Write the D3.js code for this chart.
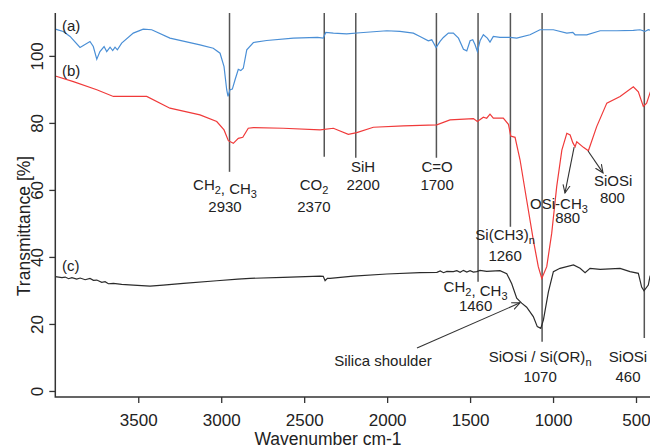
<!DOCTYPE html>
<html>
<head>
<meta charset="utf-8">
<script src="https://cdn.jsdelivr.net/npm/d3@7"></script>
<style>
  body { margin: 0; background: #fff; }
  svg { font-family: "Liberation Sans", Arial, sans-serif; }
  .tick text { font-size: 17px; fill: #222; }
  .tick line { stroke: #333; stroke-width: 1.3; }
  .axis-title { font-size: 17.5px; fill: #222; }
  .annot { font-size: 15px; fill: #222; }
  .vline { stroke: #555; stroke-width: 1.5; }
</style>
</head>
<body>
<div id="chart"></div>
<script>
// spectrum (a) - blue
const wnA = [4000, 3952, 3911, 3851, 3791, 3771, 3750, 3731, 3706, 3690, 3670, 3654, 3640, 3626, 3600, 3530, 3470, 3419, 3309, 3128, 3048, 3007, 2983, 2967, 2959, 2947, 2933, 2917, 2897, 2882, 2867, 2846, 2806, 2726, 2565, 2420, 2385, 2370, 2324, 2244, 2163, 2002, 1923, 1842, 1802, 1752, 1731, 1705, 1681, 1661, 1631, 1601, 1570, 1540, 1520, 1500, 1484, 1470, 1456, 1440, 1420, 1396, 1380, 1360, 1320, 1259, 1219, 1139, 1079, 998, 917, 881, 867, 797, 716, 616, 516, 476, 446, 426, 400];
const tA = [108.0, 107.3, 105.8, 102.5, 104.3, 102.8, 99.0, 101.3, 102.8, 101.3, 102.6, 101.6, 102.6, 101.8, 103.8, 106.8, 108.0, 107.8, 105.3, 103.3, 102.3, 100.8, 96.8, 89.9, 87.9, 89.9, 90.1, 92.8, 96.0, 95.6, 96.3, 101.8, 104.0, 104.6, 105.3, 105.5, 105.3, 107.0, 106.8, 106.6, 106.9, 107.5, 107.3, 106.8, 105.8, 104.5, 104.8, 102.5, 104.3, 105.5, 106.8, 106.8, 105.3, 102.0, 101.5, 104.5, 104.8, 103.3, 101.3, 104.5, 106.3, 105.3, 104.1, 105.8, 105.5, 105.5, 105.3, 106.3, 107.8, 107.8, 106.8, 107.0, 106.3, 106.3, 107.5, 107.5, 107.6, 107.8, 107.3, 107.8, 107.5];

// spectrum (b) - red
const wnB = [4000, 3891, 3750, 3650, 3449, 3309, 3128, 3027, 2983, 2957, 2927, 2897, 2870, 2837, 2806, 2626, 2404, 2324, 2234, 2183, 2083, 1902, 1701, 1621, 1480, 1456, 1420, 1400, 1380, 1360, 1300, 1269, 1255, 1229, 1199, 1159, 1119, 1089, 1068, 1038, 1008, 978, 947, 917, 897, 881, 867, 857, 817, 787, 737, 676, 596, 516, 486, 456, 436, 416, 400];
const tB = [94.0, 92.3, 89.9, 87.9, 87.9, 84.4, 82.4, 80.4, 77.9, 74.7, 73.9, 75.4, 75.7, 78.4, 78.6, 78.4, 77.9, 78.4, 76.6, 77.1, 78.7, 79.1, 79.4, 80.9, 81.3, 80.4, 81.7, 81.4, 82.6, 81.4, 81.4, 79.6, 76.1, 75.7, 69.0, 57.0, 45.1, 37.1, 33.6, 37.1, 47.1, 61.0, 71.9, 76.9, 76.4, 74.1, 72.9, 74.4, 72.7, 71.7, 78.9, 85.9, 87.9, 90.8, 89.3, 84.9, 85.9, 88.9, 91.0];

// spectrum (c) - black
const wnC = [4000, 3960, 3940, 3920, 3900, 3871, 3850, 3820, 3791, 3770, 3750, 3720, 3700, 3680, 3650, 3600, 3530, 3429, 3350, 3228, 3027, 2900, 2826, 2626, 2404, 2385, 2374, 2360, 2344, 2204, 2002, 1802, 1700, 1680, 1660, 1640, 1601, 1580, 1560, 1540, 1520, 1500, 1480, 1460, 1440, 1400, 1320, 1279, 1249, 1219, 1189, 1159, 1119, 1095, 1074, 1058, 1028, 998, 958, 877, 837, 807, 777, 716, 596, 536, 486, 466, 452, 426, 416, 400];
const tC = [34.1, 33.8, 34.0, 33.5, 33.8, 33.4, 33.7, 33.2, 33.6, 33.0, 33.1, 32.4, 32.6, 32.0, 32.1, 31.8, 31.6, 31.3, 31.6, 32.1, 32.9, 33.4, 33.6, 33.9, 34.3, 34.2, 32.9, 33.6, 33.6, 34.3, 34.9, 35.3, 35.4, 35.8, 35.3, 35.7, 35.6, 35.9, 35.4, 36.0, 35.5, 35.9, 35.5, 35.6, 36.0, 35.7, 35.9, 35.0, 32.0, 27.7, 26.2, 25.0, 22.2, 19.2, 18.7, 21.2, 29.6, 35.6, 36.6, 37.6, 36.6, 35.3, 36.6, 36.3, 36.6, 35.6, 35.1, 31.0, 29.9, 31.6, 34.1, 36.0];

// tick labels
const xTicks = [3500, 3000, 2500, 2000, 1500, 1000, 500];
const yTicks = [0, 20, 40, 60, 80, 100];

// band marker lines: wavenumber, lower end (transmittance)
const bandWn = [2950, 2379, 2189, 1703, 1452, 1257, 1066, 450];
const bandEnd = [65.4, 69.9, 69.6, 69.6, 32.6, 49.0, 14.7, 15.8];

// band labels: text, wavenumber, transmittance (baseline)
const labelText = ["CH_2, CH_3", "2930", "CO_2", "2370", "SiH", "2200", "C=O", "1700",
  "Si(CH3)_n", "1260", "CH_2, CH_3", "1460", "SiOSi / Si(OR)_n", "1070", "SiOSi", "460",
  "OSi-CH_3", "880", "SiOSi", "800", "Silica shoulder", "(a)", "(b)", "(c)"];
const labelWn = [2977, 2977, 2441, 2441, 2145, 2145, 1699, 1699,
  1289, 1289, 1467, 1467, 1078, 1078, 548, 548,
  964, 912, 638, 642, 2025, 3960, 3960, 3960];
const labelT = [60.0, 53.4, 60.0, 53.4, 65.4, 60.1, 65.4, 60.1,
  45.1, 38.8, 29.6, 23.9, 8.7, 2.8, 8.7, 2.8,
  54.3, 50.1, 61.2, 56.1, 7.5, 107.5, 94.0, 35.8];

// arrows: from (wn, T) to (wn, T)
const arrowFrom = [[1820, 12.8], [873, 72.8], [789, 71.6]];
const arrowTo = [[1199, 26.3], [928, 59.1], [699, 65.1]];

const W = 650, H = 447;
const svg = d3.select("#chart").append("svg")
    .attr("width", W)
    .attr("height", H);

const x = d3.scaleLinear().domain([4000, 400]).range([55.3, 652.6]);
const y = d3.scaleLinear().domain([-1.8, 112.8]).range([397, 13]);

svg.append("defs").append("clipPath").attr("id", "plot-clip")
  .append("rect")
    .attr("x", x.range()[0]).attr("y", y.range()[1])
    .attr("width", x.range()[1] - x.range()[0])
    .attr("height", y.range()[0] - y.range()[1]);

svg.append("defs").append("marker")
    .attr("id", "arrow")
    .attr("viewBox", "0 0 10 10")
    .attr("refX", 9).attr("refY", 5)
    .attr("markerWidth", 9).attr("markerHeight", 9)
    .attr("markerUnits", "userSpaceOnUse")
    .attr("orient", "auto")
  .append("path")
    .attr("d", "M0,1 L9,5 L0,9")
    .attr("fill", "none")
    .attr("stroke", "#333")
    .attr("stroke-width", 1.2);

// band marker lines
svg.append("g")
  .selectAll("line")
  .data(bandWn)
  .join("line")
    .attr("class", "vline")
    .attr("x1", d => x(d)).attr("x2", d => x(d))
    .attr("y1", y.range()[1])
    .attr("y2", (d, i) => y(bandEnd[i]));

// spectra
const line = d3.line().x(d => x(d[0])).y(d => y(d[1]));
const spectra = [
  {wn: wnA, t: tA, color: "#4a8fd6"},
  {wn: wnB, t: tB, color: "#f03a3a"},
  {wn: wnC, t: tC, color: "#2b2b2b"}
];
svg.append("g")
    .attr("clip-path", "url(#plot-clip)")
  .selectAll("path")
  .data(spectra)
  .join("path")
    .attr("d", s => line(s.wn.map((w, i) => [w, s.t[i]])))
    .attr("fill", "none")
    .attr("stroke", s => s.color)
    .attr("stroke-width", 1.2);

// x axis
const xAxis = svg.append("g")
    .attr("transform", `translate(0,${y.range()[0]})`)
    .call(d3.axisBottom(x).tickValues(xTicks).tickSize(6).tickPadding(11).tickFormat(d3.format("d")));
xAxis.select(".domain").remove();

// y axis, labels rotated
const yAxis = svg.append("g")
    .attr("transform", `translate(${x.range()[0]},0)`)
    .call(d3.axisLeft(y).tickValues(yTicks).tickSize(6));
yAxis.select(".domain").remove();
yAxis.selectAll(".tick text")
    .attr("x", null).attr("dy", null)
    .attr("text-anchor", "middle")
    .attr("transform", "translate(-12,0) rotate(-90)");

// L-shaped frame
svg.append("path")
    .attr("d", `M${x.range()[0]},${y.range()[1]} V${y.range()[0]} H${W}`)
    .attr("fill", "none")
    .attr("stroke", "#333")
    .attr("stroke-width", 1.5);

// axis titles
svg.append("text")
    .attr("class", "axis-title")
    .attr("x", 328).attr("y", 445)
    .attr("text-anchor", "middle")
    .text("Wavenumber cm-1");

svg.append("text")
    .attr("class", "axis-title")
    .attr("transform", "translate(30,226) rotate(-90)")
    .attr("text-anchor", "middle")
    .text("Transmittance [%]");

// labels, "_x" marks a subscript
svg.append("g")
  .selectAll("text")
  .data(labelText)
  .join("text")
    .attr("class", "annot")
    .attr("x", (d, i) => x(labelWn[i]))
    .attr("y", (d, i) => y(labelT[i]))
    .attr("text-anchor", d => d.startsWith("(") ? "start" : "middle")
    .each(function(d) {
      const parts = d.split(/_(\w)/);
      const el = d3.select(this);
      parts.forEach((p, k) => {
        if (p === "") return;
        if (k % 2 === 1) {
          el.append("tspan").attr("dy", 4).attr("font-size", "11px").text(p);
          el.append("tspan").attr("dy", -4).text("");
        } else {
          el.append("tspan").text(p);
        }
      });
    });

// arrows
svg.append("g")
  .selectAll("line")
  .data(arrowFrom)
  .join("line")
    .attr("x1", d => x(d[0])).attr("y1", d => y(d[1]))
    .attr("x2", (d, i) => x(arrowTo[i][0])).attr("y2", (d, i) => y(arrowTo[i][1]))
    .attr("stroke", "#333")
    .attr("stroke-width", 1.1)
    .attr("marker-end", "url(#arrow)");
</script>
</body>
</html>
